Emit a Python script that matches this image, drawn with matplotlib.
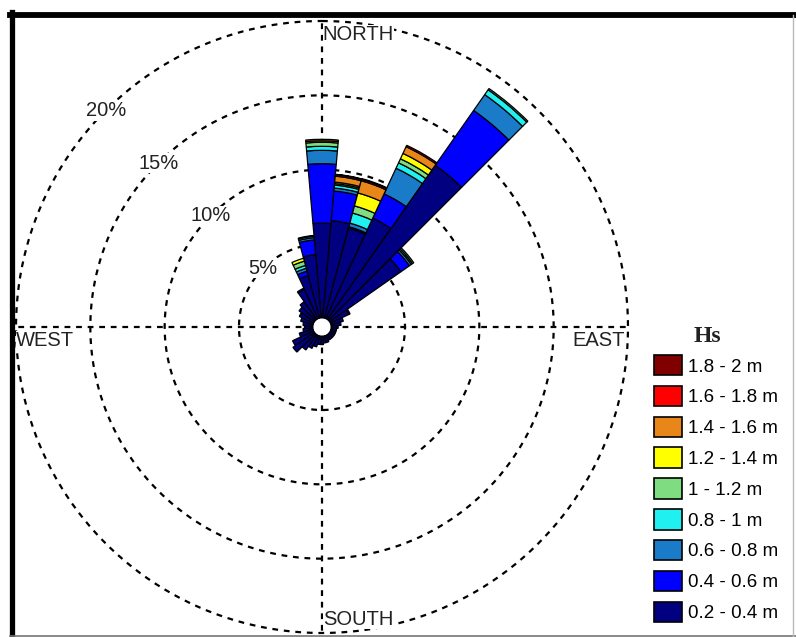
import numpy as np
import matplotlib
matplotlib.use("Agg")
import matplotlib.pyplot as plt
from matplotlib.patches import Patch
from matplotlib.lines import Line2D

plt.rcParams['font.family'] = ['Liberation Sans', 'DejaVu Sans']

W, H = 796, 637  # output size in px

# direction of each sector (deg from north, clockwise)
directions = np.arange(0, 360, 10)

# frequency (%) per Hs class, one value per direction
#            0    10   20   30   40    50   60   70   80   90  100  110  120  130  140  150  160  170  180  190  200  210  220  230  240  250  260  270  280  290  300  310  320  330  340  350
hs_02_04 = [6.4, 6.6, 6.3, 7.5, 12.7, 5.9, 1.4, 0.9, 0.7, 0.5, 0.4, 0.4, 0.4, 0.4, 0.4, 0.4, 0.5, 0.5, 0.6, 0.6, 0.8, 1.0, 1.3, 1.8, 1.6, 1.0, 0.7, 0.6, 0.7, 0.9, 1.1, 1.3, 1.5, 2.2, 3.0, 4.3]
hs_04_06 = [4.0, 2.0, 0.1, 1.8, 4.5, 0.7, 0.1, 0, 0, 0, 0, 0, 0, 0, 0, 0, 0, 0, 0, 0, 0, 0, 0, 0, 0, 0, 0, 0, 0, 0, 0, 0, 0, 0.1, 0.3, 1.0]
hs_06_08 = [0.9, 0.2, 0.25, 1.9, 1.3, 0.15, 0, 0, 0, 0, 0, 0, 0, 0, 0, 0, 0, 0, 0, 0, 0, 0, 0, 0, 0, 0, 0, 0, 0, 0, 0, 0, 0, 0, 0.2, 0.15]
hs_08_10 = [0.27, 0.2, 0.7, 0.4, 0.4, 0.1, 0, 0, 0, 0, 0, 0, 0, 0, 0, 0, 0, 0, 0, 0, 0, 0, 0, 0, 0, 0, 0, 0, 0, 0, 0, 0, 0, 0, 0.2, 0.1]
hs_10_12 = [0.27, 0.1, 0.5, 0.3, 0.1, 0.1, 0, 0, 0, 0, 0, 0, 0, 0, 0, 0, 0, 0, 0, 0, 0, 0, 0, 0, 0, 0, 0, 0, 0, 0, 0, 0, 0, 0, 0.3, 0.05]
hs_12_14 = [0.1, 0.1, 0.9, 0.4, 0, 0, 0, 0, 0, 0, 0, 0, 0, 0, 0, 0, 0, 0, 0, 0, 0, 0, 0, 0, 0, 0, 0, 0, 0, 0, 0, 0, 0, 0, 0.2, 0]
hs_14_16 = [0.1, 0.4, 0.85, 0.5, 0, 0, 0, 0, 0, 0, 0, 0, 0, 0, 0, 0, 0, 0, 0, 0, 0, 0, 0, 0, 0, 0, 0, 0, 0, 0, 0, 0, 0, 0, 0, 0]
hs_16_18 = [0, 0.1, 0.1, 0.1, 0, 0, 0, 0, 0, 0, 0, 0, 0, 0, 0, 0, 0, 0, 0, 0, 0, 0, 0, 0, 0, 0, 0, 0, 0, 0, 0, 0, 0, 0, 0, 0]
hs_18_20 = [0, 0.03, 0.05, 0, 0, 0, 0, 0, 0, 0, 0, 0, 0, 0, 0, 0, 0, 0, 0, 0, 0, 0, 0, 0, 0, 0, 0, 0, 0, 0, 0, 0, 0, 0, 0, 0]

hs_labels = ['0.2 - 0.4 m', '0.4 - 0.6 m', '0.6 - 0.8 m', '0.8 - 1 m', '1 - 1.2 m',
             '1.2 - 1.4 m', '1.4 - 1.6 m', '1.6 - 1.8 m', '1.8 - 2 m']
hs_colors = ['#000080', '#0000ff', '#1a7cc8', '#20f0f0', '#80dc80',
             '#ffff00', '#e8861a', '#ff0000', '#800000']
series = [hs_02_04, hs_04_06, hs_06_08, hs_08_10, hs_10_12,
          hs_12_14, hs_14_16, hs_16_18, hs_18_20]

rings = [5, 10, 15, 20]
ring_labels = ['5%', '10%', '15%', '20%']

fig = plt.figure(figsize=(W / 100, H / 100), dpi=100)
fig.patch.set_facecolor('white')

# polar axes centred at (322, 327) px, radius 306 px
ax = fig.add_axes([16 / W, (H - 327 - 306) / H, 612 / W, 612 / H], projection='polar')
ax.set_theta_zero_location('N')
ax.set_theta_direction(-1)
ax.set_ylim(0, 20)
ax.set_rorigin(-0.585)  # small white hole in the middle
ax.set_axis_off()

# dashed grid
dash = (0, (2.6, 2.6))
tt = np.linspace(0, 2 * np.pi, 400)
for r in rings:
    ax.plot(tt, np.full_like(tt, r), color='black', lw=1.6, linestyle=dash,
            zorder=1, clip_on=False)
for a in np.deg2rad([0, 90, 180, 270]):
    ax.plot([a, a], [0, 20], color='black', lw=1.6, linestyle=dash,
            zorder=1, clip_on=False)

# stacked bars
theta = np.deg2rad(directions)
width = np.deg2rad(10)
bottom = np.zeros(len(directions))
for vals, col in zip(series, hs_colors):
    vals = np.asarray(vals, dtype=float)
    m = vals > 0
    ax.bar(theta[m], vals[m], width=width, bottom=bottom[m], color=col,
           edgecolor='black', linewidth=0.9, zorder=3)
    bottom = bottom + vals

# ring labels along NW
fs = 14.5
for r, lab in zip(rings, ring_labels):
    ax.text(np.deg2rad(315), r, lab, ha='center', va='center', fontsize=fs,
            color='#222222', zorder=4, clip_on=False,
            bbox=dict(facecolor='white', edgecolor='none', pad=0.5))

# compass labels
compass = [('NORTH', 0, (0.5, -3), 'left', 'top'),
           ('SOUTH', np.pi, (0.5, 3), 'left', 'bottom'),
           ('EAST', np.pi / 2, (-2, -3), 'right', 'top'),
           ('WEST', 3 * np.pi / 2, (0, -3), 'left', 'top')]
for lab, a, off, ha, va in compass:
    ax.annotate(lab, xy=(a, 20), xytext=off, textcoords='offset points',
                ha=ha, va=va, fontsize=fs, color='#222222', zorder=4,
                annotation_clip=False,
                bbox=dict(facecolor='white', edgecolor='none', pad=0))

# legend, highest class on top
handles = [Patch(facecolor=c, edgecolor='black', linewidth=1.2) for c in hs_colors[::-1]]
fig.legend(handles, hs_labels[::-1], loc='upper left',
           bbox_to_anchor=(654 / W, 1 - 355 / H), frameon=False,
           borderpad=0, borderaxespad=0, handlelength=1.5, handleheight=1.3,
           labelspacing=0.55, handletextpad=0.3, fontsize=13.5)
fig.text(707 / W, 1 - 336 / H, 'Hs', ha='center', va='center', fontsize=17,
         family='Liberation Serif', weight='bold', color='#222222')

# picture frame
fig.add_artist(Line2D([12.5 / W, 12.5 / W], [0, 1 - 12 / H], transform=fig.transFigure,
                      color='black', lw=3.8))
fig.add_artist(Line2D([10 / W, 1], [1 - 15 / H, 1 - 15 / H], transform=fig.transFigure,
                      color='black', lw=4.2))
fig.add_artist(Line2D([10 / W, 1], [1.5 / H, 1.5 / H], transform=fig.transFigure,
                      color='#777777', lw=1.2))
fig.add_artist(Line2D([793 / W, 793 / W], [0, 1 - 15 / H], transform=fig.transFigure,
                      color='#bbbbbb', lw=1.0))

fig.savefig('out.png', dpi=100)
